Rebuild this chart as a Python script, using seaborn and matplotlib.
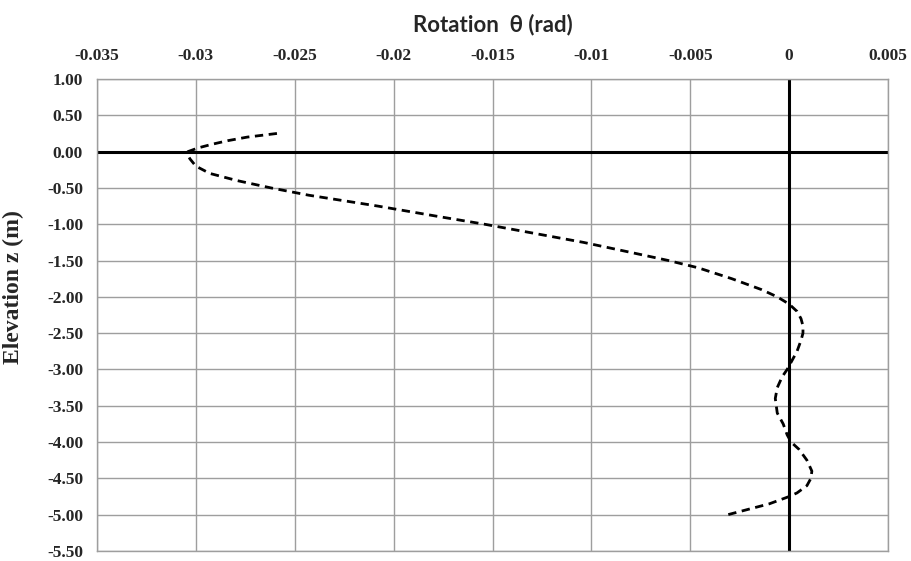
import matplotlib
matplotlib.use("Agg")
import matplotlib.pyplot as plt
import seaborn as sns
import pandas as pd

# Elevation z (m)
elevation = [0.25, 0.20, 0.15, 0.10, 0.05, 0.00, -0.05, -0.10, -0.20, -0.30,
             -0.40, -0.50, -0.60, -0.75, -0.90, -1.00, -1.25, -1.40, -1.50,
             -1.60, -1.75, -1.90, -2.00, -2.10, -2.20, -2.30, -2.40, -2.50,
             -2.60, -2.75, -3.00, -3.10, -3.25, -3.40, -3.50, -3.60, -3.75,
             -3.90, -4.00, -4.10, -4.25, -4.40, -4.50, -4.60, -4.70, -4.75,
             -4.85, -5.00]
# Rotation theta (rad)
rotation = [-0.0259, -0.0274, -0.0284, -0.0292, -0.0299, -0.0304, -0.0304,
            -0.0303, -0.0300, -0.0293, -0.0279, -0.0262, -0.0243, -0.0208,
            -0.0176, -0.0154, -0.0104, -0.0078, -0.0061, -0.0046, -0.0029,
            -0.0014, -0.0006, 0.0000, 0.0004, 0.0006, 0.0007, 0.0007, 0.0006,
            0.0004, -0.0001, -0.00035, -0.0006, -0.0007, -0.00065, -0.0006,
            -0.0003, -0.0001, 0.0001, 0.0005, 0.0009, 0.00115, 0.0011, 0.0009,
            0.0004, 0.0000, -0.0010, -0.0031]

x_ticks = [-0.035, -0.03, -0.025, -0.02, -0.015, -0.01, -0.005, 0, 0.005]
x_tick_labels = ["-0.035", "-0.03", "-0.025", "-0.02", "-0.015", "-0.01", "-0.005", "0", "0.005"]
y_ticks = [1.0, 0.5, 0.0, -0.5, -1.0, -1.5, -2.0, -2.5, -3.0, -3.5, -4.0, -4.5, -5.0, -5.5]
y_tick_labels = ["1.00", "0.50", "0.00", "-0.50", "-1.00", "-1.50", "-2.00", "-2.50",
                 "-3.00", "-3.50", "-4.00", "-4.50", "-5.00", "-5.50"]

df = pd.DataFrame({"rotation": rotation, "elevation": elevation})

sns.set_style("white")
fig = plt.figure(figsize=(9.12, 5.61), dpi=100)
ax = fig.add_axes([97/912, 10/561, (888-97)/912, (551-79)/561])

sns.lineplot(data=df, x="rotation", y="elevation", sort=False, estimator=None,
             color="black", linewidth=2.0, ax=ax)
ax.lines[-1].set_dashes([3, 2])

ax.set_xlim(-0.035, 0.005)
ax.set_ylim(-5.5, 1.0)

grid_c = "#9e9e9e"
for xv in x_ticks:
    ax.axvline(xv, color=grid_c, lw=1.0, zorder=0)
for yv in y_ticks:
    ax.axhline(yv, color=grid_c, lw=1.0, zorder=0)
ax.axhline(0, color="black", lw=2.2, zorder=1)
ax.axvline(0, color="black", lw=2.2, zorder=1)

for s in ax.spines.values():
    s.set_color(grid_c)
    s.set_linewidth(1.0)

ax.xaxis.tick_top()
ax.xaxis.set_label_position("top")
ax.set_xticks(x_ticks)
ax.set_xticklabels(x_tick_labels)
ax.set_yticks(y_ticks)
ax.set_yticklabels(y_tick_labels)
ax.tick_params(axis="x", length=0, pad=11)
ax.tick_params(axis="y", length=0, pad=10)
for lab in ax.get_xticklabels() + ax.get_yticklabels():
    lab.set_fontfamily("Liberation Serif")
    lab.set_fontweight("bold")
    lab.set_fontsize(12.5)

ax.set_xlabel("Rotation  θ (rad)", fontsize=16, fontweight="bold",
              family=["Lato", "DejaVu Sans"], labelpad=12)
ax.set_ylabel("Elevation z (m)", fontsize=17, fontweight="bold",
              family="Liberation Serif")
ax.yaxis.set_label_coords(-0.0923, 0.559)

fig.savefig("out.png", dpi=100)
